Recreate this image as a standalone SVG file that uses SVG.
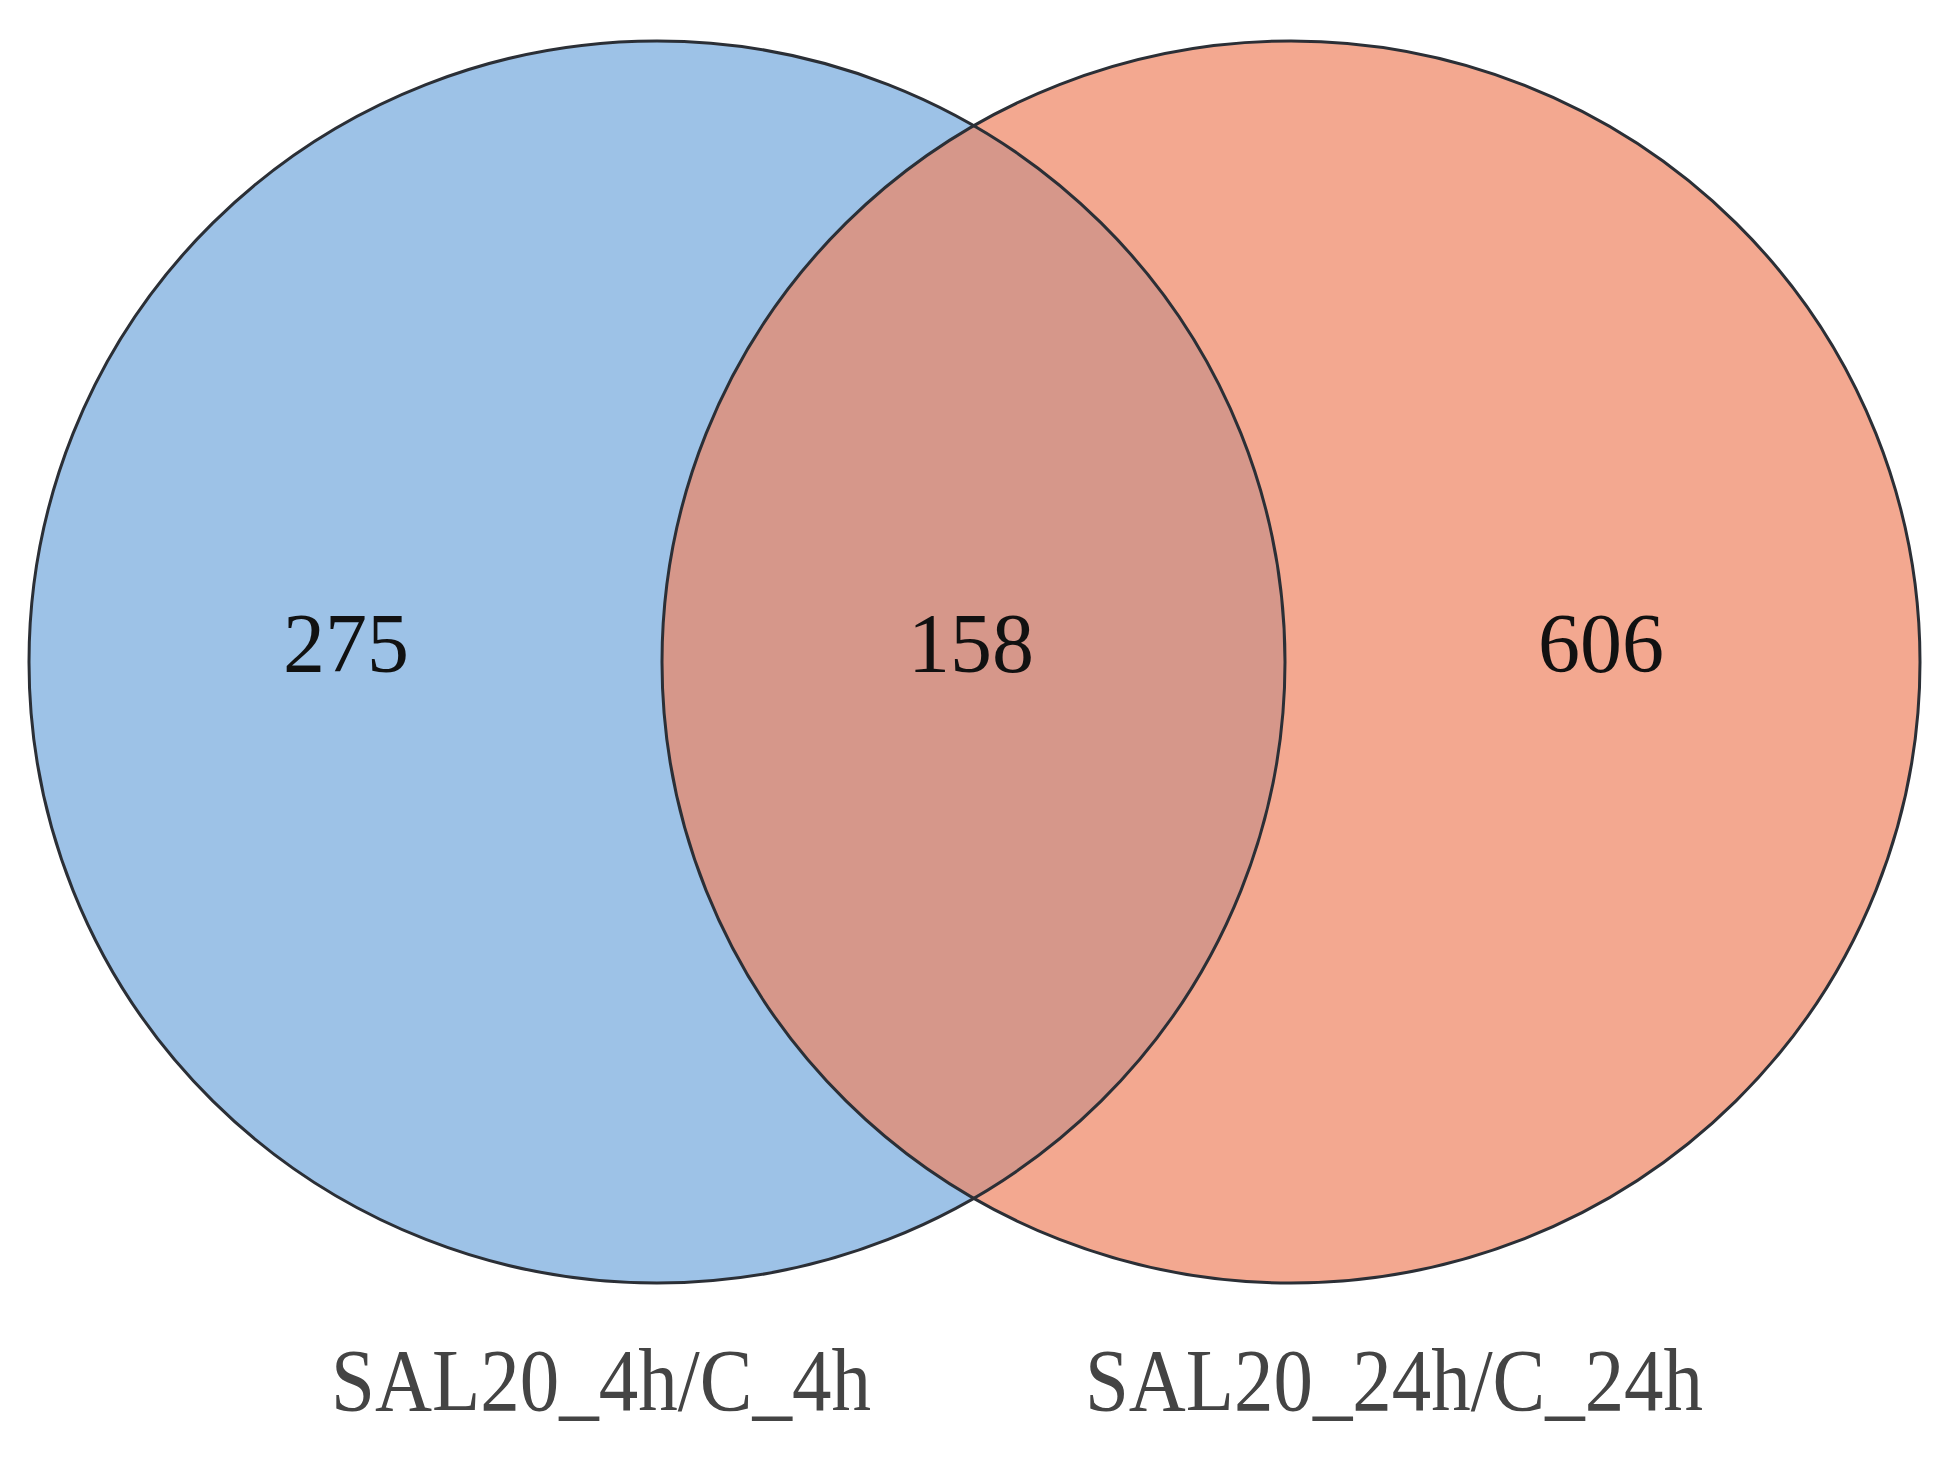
<svg xmlns="http://www.w3.org/2000/svg" width="1960" height="1471" viewBox="0 0 1960 1471">
<style>
.num{font-family:"Liberation Serif","Times New Roman",serif;font-size:84px;fill:#111;text-anchor:middle}
.lab{font-family:"Liberation Serif","Times New Roman",serif;font-size:88px;fill:#444;text-anchor:middle}
.edge{fill:none;stroke:#2b2f36;stroke-width:3}
</style>
<defs>
<clipPath id="clipL"><ellipse cx="657" cy="662" rx="628" ry="621"/></clipPath>
</defs>
<rect width="1960" height="1471" fill="#fff"/>
<g id="setA"><ellipse cx="657" cy="662" rx="628" ry="621" fill="#9dc2e7"/></g>
<g id="setB"><ellipse cx="1291" cy="662" rx="629" ry="621" fill="#f3a890"/></g>
<g id="overlap"><ellipse cx="1291" cy="662" rx="629" ry="621" fill="#d6978a" clip-path="url(#clipL)"/></g>
<g id="outlines">
<ellipse class="edge" cx="657" cy="662" rx="628" ry="621"/>
<ellipse class="edge" cx="1291" cy="662" rx="629" ry="621"/>
</g>
<g id="labels">
<text class="num" x="346" y="672">275</text>
<text class="num" x="971" y="672">158</text>
<text class="num" x="1601" y="672">606</text>
<text class="lab" x="601" y="1410" textLength="540" lengthAdjust="spacingAndGlyphs">SAL20_4h/C_4h</text>
<text class="lab" x="1394" y="1410" textLength="618" lengthAdjust="spacingAndGlyphs">SAL20_24h/C_24h</text>
</g>
</svg>
